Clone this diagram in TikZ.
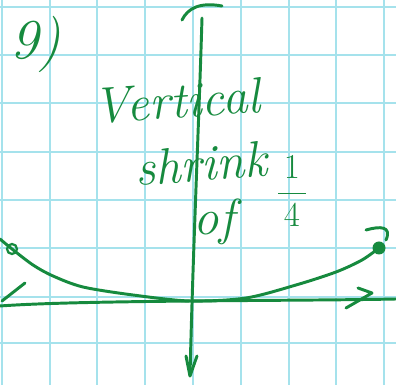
\documentclass[tikz,border=0pt]{standalone}
\usepackage{tikz}
\usetikzlibrary{arrows.meta,positioning}
\definecolor{ink}{RGB}{22,138,62}
\definecolor{gridcyan}{RGB}{165,226,236}

\begin{document}
\begin{tikzpicture}[
  x=0.025cm, y=-0.025cm,
  pen/.style={draw=ink, line width=2.1pt, line cap=round, line join=round},
  hand/.style={text=ink, font=\fontsize{36}{40}\selectfont\itshape, inner sep=0pt},
  gridline/.style={draw=gridcyan, line width=0.9pt}
]
\useasboundingbox (0,0) rectangle (396,385);
% grid paper
\foreach \gx in {2,50,97,145,193,241,289,336,384}
  \draw[gridline] (\gx,0) -- (\gx,385);
\foreach \gy in {7,55,103,152,200,248,297,343}
  \draw[gridline] (0,\gy) -- (396,\gy);

% x-axis with hand arrows
\coordinate (xl) at (0,306);
\coordinate (xr) at (396,299);
\draw[pen] (xl) .. controls (80,300) and (300,301) .. (xr);
\draw[pen] (25,283) -- (2,301);
\draw[pen] (358,288) -- (372,293) -- (346,308);

% y-axis
\coordinate (yt) at (202,18);
\coordinate (yb) at (190,376);
\draw[pen] (yt) .. controls (199,120) and (193,250) .. (yb);
\draw[pen] (182,20) .. controls (188,8) and (200,2) .. (222,6);
\draw[pen] (186,356) -- (yb) -- (197,356);

% the shrunk graph
\coordinate (open) at (12,249);
\coordinate (closed) at (379,248);
\draw[pen] plot[smooth, tension=0.5] coordinates {(0,239) (open) (33,265) (53,276) (83,287)
  (133,295) (190,301) (246,298) (296,285) (336,272) (362,260) (closed)};
\draw[pen, line width=1.6pt] (open) circle (5);
\fill[ink] (closed) circle (6.5);
\draw[pen] (366,230) .. controls (380,226) and (392,226) .. (386,240);

% labels
\node[hand, font=\fontsize{40}{44}\selectfont\itshape] (num) at (36,44) {9)};
\node[hand, anchor=base, rotate=4] (vert) at (178,118) {Vertical};
\node[hand, anchor=base, rotate=4] (shr) at (202,181) {shrink};
\node[hand] (of) at (214,222) {of};
\node[hand, font=\fontsize{30}{34}\selectfont] (frac) at (292,191) {$\displaystyle\frac{\,1\,}{\,4\,}$};
\end{tikzpicture}
\end{document}
